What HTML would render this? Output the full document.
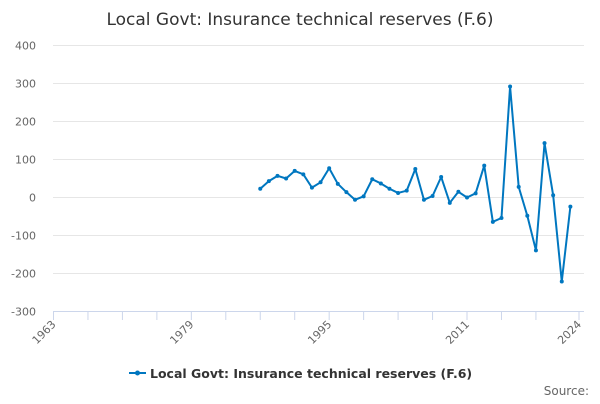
<!DOCTYPE html>
<html><head><meta charset="utf-8"><style>
body{margin:0;background:#fff;font-family:"DejaVu Sans","Liberation Sans",sans-serif}
</style></head><body>
<svg width="600" height="400" viewBox="0 0 600 400">
<text x="300" y="25" text-anchor="middle" font-size="17" fill="#333">Local Govt: Insurance technical reserves (F.6)</text>
<g id="grid"></g>
<g id="xaxis"></g>
<g id="series"></g>
<g>
<line x1="129" y1="373" x2="146" y2="373" stroke="#0077c0" stroke-width="2"/>
<circle cx="137.5" cy="373" r="2.5" fill="#0077c0"/>
<text x="150" y="378" font-size="12.5" font-weight="bold" fill="#333">Local Govt: Insurance technical reserves (F.6)</text>
</g>
<text x="589" y="395" text-anchor="end" font-size="12" fill="#666">Source:</text>
</svg>
<script>
const years=[1987,1988,1989,1990,1991,1992,1993,1994,1995,1996,1997,1998,1999,2000,2001,2002,2003,2004,2005,2006,2007,2008,2009,2010,2011,2012,2013,2014,2015,2016,2017,2018,2019,2020,2021,2022,2023];
const values=[23,43,57,50,70,61,26,40,77,36,14,-6,3,48,37,23,12,18,75,-6,4,54,-14,15,0,11,84,-64,-54,292,28,-48,-139,143,6,-221,-24];
const yTicks=[400,300,200,100,0,-100,-200,-300];
const xTicks=[1963,1967,1971,1975,1979,1983,1987,1991,1995,1999,2003,2007,2011,2015,2019,2024];
const xLabels=[1963,1979,1995,2011,2024];
const NS='http://www.w3.org/2000/svg';
const X=y=>53.5+(y-1963)*(579-53.5)/61;
const Y=v=>197.5-v*0.38;
function mk(t,a,p){const e=document.createElementNS(NS,t);for(const k in a)e.setAttribute(k,a[k]);p.appendChild(e);return e;}
const g=document.getElementById('grid');
yTicks.forEach(v=>{
 if(v>-300){const l=mk('line',{x1:53,x2:584,y1:Y(v),y2:Y(v),stroke:'#e6e6e6'},g);
 
 }
 const t=mk('text',{x:36,y:Y(v)+4,'text-anchor':'end','font-size':11,fill:'#666'},g);t.textContent=v;
 
 
});
const xa=document.getElementById('xaxis');
mk('line',{x1:53,x2:584,y1:311.5,y2:311.5,stroke:'#ccd6eb'},xa);
xTicks.forEach(y=>{const l=mk('line',{x1:X(y),x2:X(y),y1:311.5,y2:320,stroke:'#ccd6eb'},xa);
 
 });
xLabels.forEach(y=>{const t=mk('text',{x:X(y)+3,y:325,'text-anchor':'end','font-size':11,fill:'#666',transform:`rotate(-45 ${X(y)+3} 325)`},xa);t.textContent=y;
 
 });
const s=document.getElementById('series');
const p=mk('polyline',{points:years.map((y,i)=>X(y)+','+Y(values[i])).join(' '),fill:'none',stroke:'#0077c0','stroke-width':2,'stroke-linejoin':'round'},s);


years.forEach((y,i)=>{const c=mk('circle',{cx:X(y),cy:Y(values[i]),r:2,fill:'#0077c0'},s);
 
 });
</script>
</body></html>
